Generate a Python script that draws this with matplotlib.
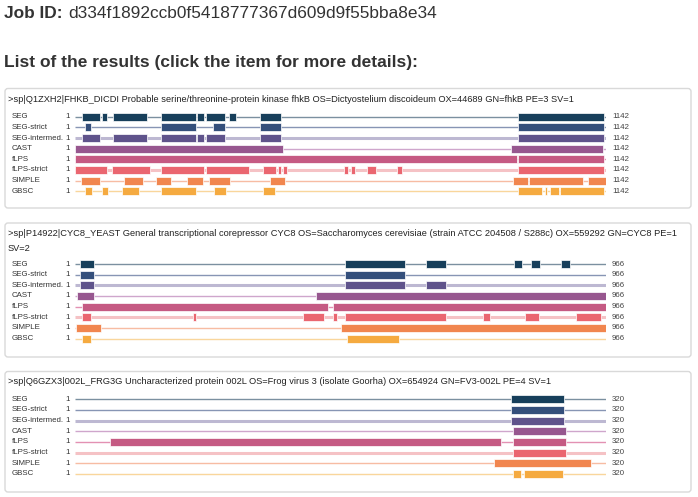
import matplotlib
matplotlib.use("Agg")
import matplotlib.pyplot as plt
from matplotlib.patches import FancyBboxPatch
from matplotlib.transforms import blended_transform_factory

# ---------------- data ----------------
job_id = "d334f1892ccb0f5418777367d609d9f55bba8e34"
tracks = ["SEG", "SEG-strict", "SEG-intermed.", "CAST", "fLPS", "fLPS-strict", "SIMPLE", "GBSC"]
bar_colors = ["#173f5b", "#344f7b", "#5f538b", "#97578f", "#c55a83", "#ea6670", "#f1864f", "#f5aa40"]
line_colors = ["#7b90a0", "#8795b4", "#bdb8d2", "#cfa6cc", "#e391b3", "#f5c2c5", "#f7bca3", "#f9d69c"]
line_widths = [1.0, 1.0, 2.2, 1.0, 1.0, 2.2, 1.0, 1.0]

p1_header = (">sp|Q1ZXH2|FHKB_DICDI Probable serine/threonine-protein kinase fhkB "
             "OS=Dictyostelium discoideum OX=44689 GN=fhkB PE=3 SV=1")
p1_length = 1142
p1_segments = [
    [(15, 55), (60, 70), (82, 156), (186, 261), (263, 278), (282, 323), (331, 348), (398, 443), (952, 1138)],
    [(22, 35), (186, 261), (298, 323), (398, 443), (952, 1138)],
    [(15, 55), (82, 156), (186, 261), (263, 278), (282, 323), (398, 443), (952, 1138)],
    [(1, 449), (937, 1136)],
    [(1, 950), (952, 1138)],
    [(1, 70), (80, 162), (186, 278), (283, 374), (405, 433), (438, 444), (447, 456), (578, 588),
     (594, 603), (628, 647), (692, 704), (952, 1138)],
    [(14, 55), (106, 148), (175, 207), (241, 277), (288, 333), (421, 452), (942, 974), (977, 1093), (1103, 1142)],
    [(22, 37), (60, 71), (103, 139), (186, 260), (300, 325), (404, 431), (952, 1004), (1010, 1016),
     (1022, 1040), (1044, 1137)],
]

p2_header = (">sp|P14922|CYC8_YEAST General transcriptional corepressor CYC8 OS=Saccharomyces "
             "cerevisiae (strain ATCC 204508 / S288c) OX=559292 GN=CYC8 PE=1\nSV=2")
p2_length = 966
p2_segments = [
    [(10, 36), (492, 600), (638, 675), (799, 813), (829, 846), (884, 900)],
    [(10, 36), (492, 600)],
    [(10, 36), (492, 600), (638, 675)],
    [(5, 36), (439, 966)],
    [(14, 461), (469, 966)],
    [(14, 30), (215, 221), (415, 453), (469, 477), (492, 675), (742, 755), (818, 845), (911, 957)],
    [(3, 48), (484, 966)],
    [(14, 30), (495, 590)],
]

p3_header = (">sp|Q6GZX3|002L_FRG3G Uncharacterized protein 002L OS=Frog virus 3 "
             "(isolate Goorha) OX=654924 GN=FV3-002L PE=4 SV=1")
p3_length = 320
p3_segments = [
    [(263, 295)],
    [(263, 295)],
    [(263, 295)],
    [(264, 296)],
    [(22, 257), (264, 296)],
    [(264, 296)],
    [(253, 311)],
    [(264, 269), (271, 294)],
]

proteins = [
    (p1_header, p1_length, p1_segments),
    (p2_header, p2_length, p2_segments),
    (p3_header, p3_length, p3_segments),
]

# ---------------- layout (pixels) ----------------
W, H = 698, 497
FONT = ["Liberation Sans", "DejaVu Sans"]
TXT = "#333333"
boxes = [(88.5, 208), (223, 357), (371.5, 492)]
header_baseline = [101.5, 236.3, 383.5]
HEADER_LINE = 14.5
track_top = [116.7, 264.0, 399.3]
SP = 10.65
X0, X1 = 75, 606
BAR_H = 0.75

fig = plt.figure(figsize=(W / 100, H / 100), dpi=100)
bg = fig.add_axes([0, 0, 1, 1])
bg.set_xlim(0, W)
bg.set_ylim(H, 0)
bg.axis("off")

bg.text(4, 17.5, "Job ID:", fontsize=12.4, fontweight="bold", color=TXT, family=FONT, va="baseline")
bg.text(68, 17.5, job_id, fontsize=12.4, color=TXT, family=FONT, va="baseline")
bg.text(4, 67, "List of the results (click the item for more details):", fontsize=12.5,
        fontweight="bold", color=TXT, family=FONT, va="baseline")

for k, (header, length, segs) in enumerate(proteins):
    y0, y1 = boxes[k]
    bg.add_patch(FancyBboxPatch((5, y0), 686, y1 - y0, boxstyle="round,pad=0,rounding_size=3",
                                facecolor="white", edgecolor="#d9d9d9", linewidth=1.0))
    for j, line in enumerate(header.split("\n")):
        bg.text(8, header_baseline[k] + j * HEADER_LINE, line, fontsize=6.64, color="#222222",
                family=FONT, va="baseline")
    top = track_top[k]
    ax = fig.add_axes([X0 / W, 1 - (top + 7.5 * SP) / H, (X1 - X0) / W, 8 * SP / H])
    ax.set_xlim(1, length)
    ax.set_ylim(7.5, -0.5)
    ax.axis("off")
    tr = blended_transform_factory(bg.transData, ax.transData)
    for i, name in enumerate(tracks):
        ax.hlines(i, 1, length, color=line_colors[i], linewidth=line_widths[i], zorder=1)
        ax.broken_barh([(s, e - s) for s, e in segs[i]], (i - BAR_H / 2, BAR_H),
                       facecolors=bar_colors[i], edgecolor="white", linewidth=0.5, zorder=2)
        ax.text(12, i, name, transform=tr, fontsize=5.7, color=TXT, family=FONT, va="center")
        ax.text(70, i, "1", transform=tr, fontsize=5.7, color=TXT, family=FONT, va="center", ha="right")
        ax.text(612, i, str(length), transform=tr, fontsize=5.7, color="#444444", family=FONT, va="center")

fig.savefig("out.png", dpi=100)
